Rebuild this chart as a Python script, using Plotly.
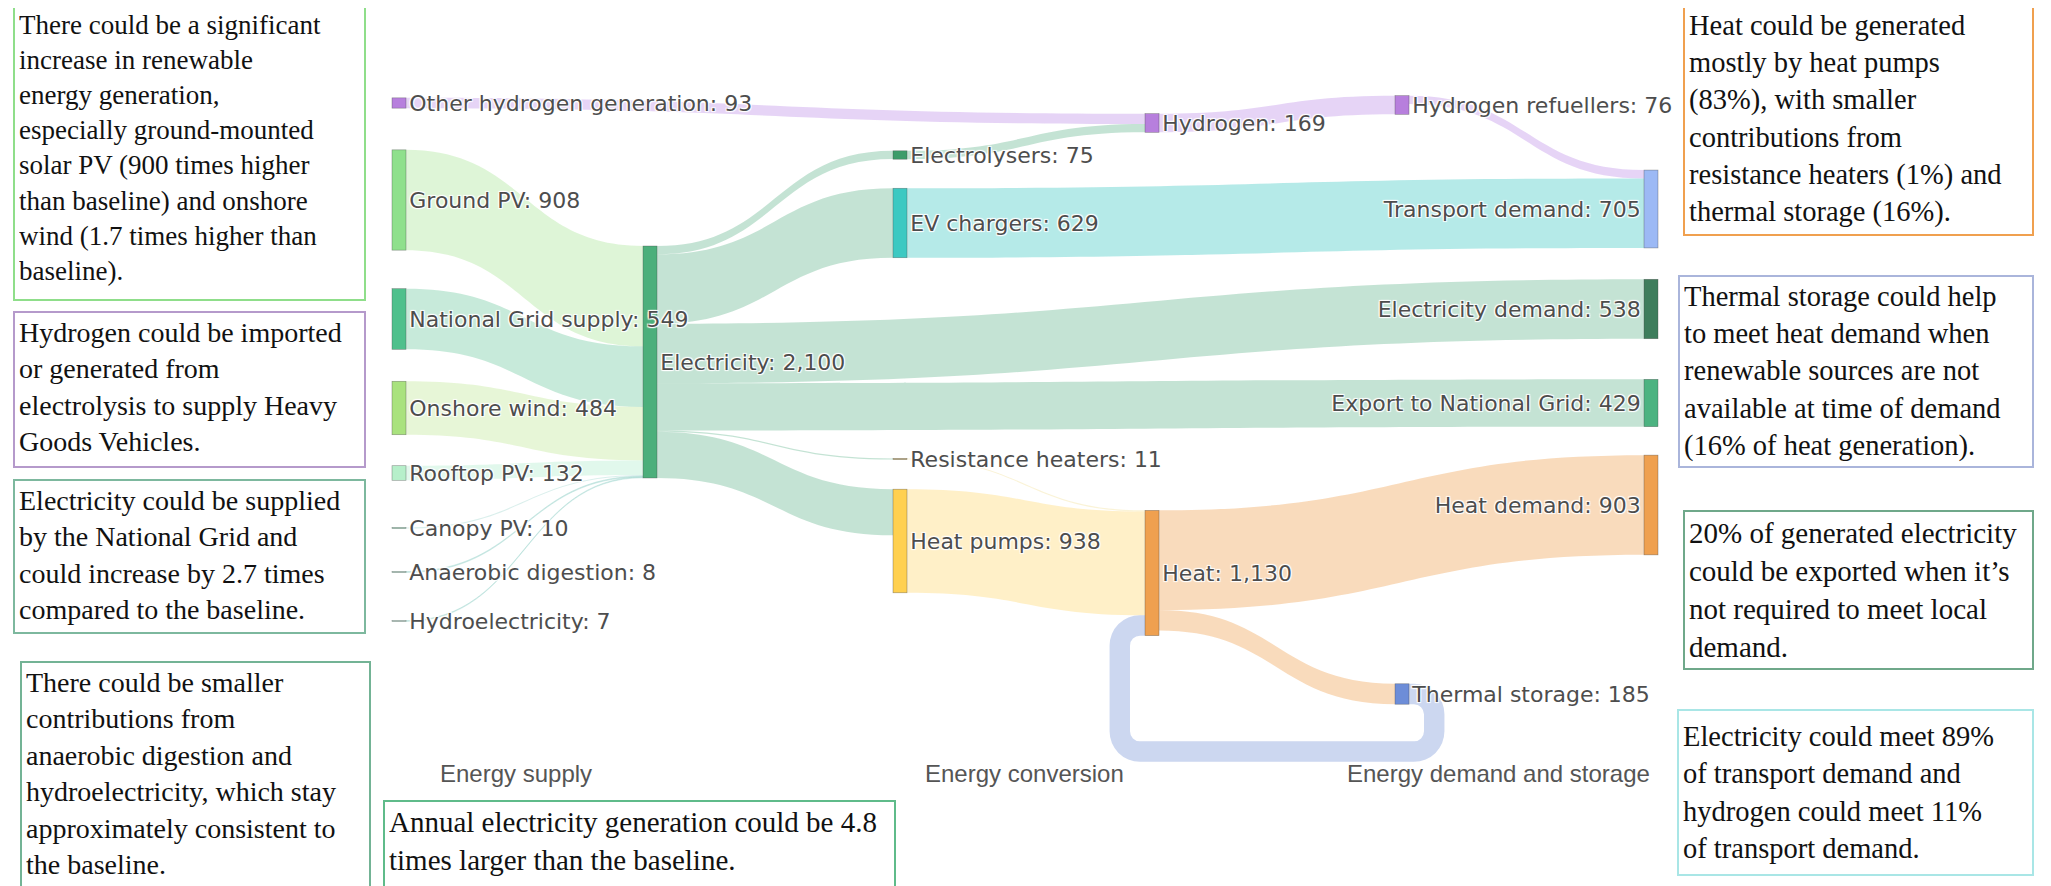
import plotly.graph_objects as go

# -- Data ---------------------------------------------------------------------

# Electricity comes first so that later node labels are drawn above its bar
NODE_NAMES = [
    "Electricity",
    "Other hydrogen generation",
    "Ground PV",
    "National Grid supply",
    "Onshore wind",
    "Rooftop PV",
    "Canopy PV",
    "Anaerobic digestion",
    "Hydroelectricity",
    "Electrolysers",
    "EV chargers",
    "Resistance heaters",
    "Heat pumps",
    "Hydrogen",
    "Heat",
    "Hydrogen refuellers",
    "Thermal storage",
    "Transport demand",
    "Electricity demand",
    "Export to National Grid",
    "Heat demand",
]
# values printed next to each node
NODE_TOTALS = [2100, 93, 908, 549, 484, 132, 10, 8, 7, 75, 629, 11, 938,
               169, 1130, 76, 185, 705, 538, 429, 903]

LINK_SOURCE = [
    "Other hydrogen generation", "Ground PV", "National Grid supply", "Onshore wind",
    "Rooftop PV", "Canopy PV", "Anaerobic digestion", "Hydroelectricity",
    "Electricity", "Electricity", "Electricity", "Electricity", "Electricity",
    "Electricity", "Electrolysers", "Hydrogen", "Hydrogen refuellers", "EV chargers",
    "Resistance heaters", "Heat pumps", "Heat", "Heat", "Thermal storage",
]
LINK_TARGET = [
    "Hydrogen", "Electricity", "Electricity", "Electricity",
    "Electricity", "Electricity", "Electricity", "Electricity",
    "Electrolysers", "EV chargers", "Electricity demand", "Export to National Grid",
    "Resistance heaters", "Heat pumps", "Hydrogen", "Hydrogen refuellers",
    "Transport demand", "Transport demand", "Heat", "Heat", "Heat demand",
    "Thermal storage", "Heat",
]
LINK_VALUE = [93, 908, 549, 484, 132, 10, 8, 7, 75, 629, 538, 429, 11, 418,
              76, 169, 76, 629, 11, 938, 903, 185, 185]

COLUMN_TITLES = ["Energy supply", "Energy conversion", "Energy demand and storage"]

NOTES = [
    "There could be a significant<br>increase in renewable<br>energy generation,<br>"
    "especially ground-mounted<br>solar PV (900 times higher<br>than baseline) and onshore<br>"
    "wind (1.7 times higher than<br>baseline).",
    "Hydrogen could be imported<br>or generated from<br>electrolysis to supply Heavy<br>"
    "Goods Vehicles.",
    "Electricity could be supplied<br>by the National Grid and<br>could increase by 2.7 times<br>"
    "compared to the baseline.",
    "There could be smaller<br>contributions from<br>anaerobic digestion and<br>"
    "hydroelectricity, which stay<br>approximately consistent to<br>the baseline.",
    "Annual electricity generation could be 4.8<br>times larger than the baseline.",
    "Heat could be generated<br>mostly by heat pumps<br>(83%), with smaller<br>"
    "contributions from<br>resistance heaters (1%) and<br>thermal storage (16%).",
    "Thermal storage could help<br>to meet heat demand when<br>renewable sources are not<br>"
    "available at time of demand<br>(16% of heat generation).",
    "20% of generated electricity<br>could be exported when it\u2019s<br>not required to meet local<br>"
    "demand.",
    "Electricity could meet 89%<br>of transport demand and<br>hydrogen could meet 11%<br>"
    "of transport demand.",
]

# -- Styling / layout ---------------------------------------------------------

W, H = 2051, 886
SHIFT = 8                  # page body margin, compensated in every position
SK_X0, SK_X1 = 392, 1659   # sankey domain in pixels (page coords)
SK_Y0, SK_Y1 = 95, 760


def px(x):
    return (x - SHIFT) / W


def py(y):
    return 1 - (y - SHIFT) / H


NODE_STYLE = {  # name: (colour, centre x px, centre y px)
    "Electricity": ("#4caf7b", 650, 362),
    "Other hydrogen generation": ("#b77fdd", 399, 103),
    "Ground PV": ("#8fe08c", 399, 200),
    "National Grid supply": ("#4fc08c", 399, 319),
    "Onshore wind": ("#a9e27e", 399, 408),
    "Rooftop PV": ("#b6efca", 399, 473),
    "Canopy PV": ("#9fdcc0", 399, 528),
    "Anaerobic digestion": ("#9fdcc0", 399, 572),
    "Hydroelectricity": ("#9fdcc0", 399, 621),
    "Electrolysers": ("#3d9c6a", 900, 155),
    "EV chargers": ("#3cc9c2", 900, 223),
    "Resistance heaters": ("#c9b070", 900, 459),
    "Heat pumps": ("#ffd04f", 900, 541),
    "Hydrogen": ("#b77fdd", 1152, 123),
    "Heat": ("#efa04f", 1152, 573),
    "Hydrogen refuellers": ("#b77fdd", 1402, 105),
    "Thermal storage": ("#6d8dd8", 1402, 694),
    "Transport demand": ("#9cb9f5", 1651, 209),
    "Electricity demand": ("#3e7d5c", 1651, 309),
    "Export to National Grid": ("#4cb381", 1651, 403),
    "Heat demand": ("#efa04f", 1651, 505),
}
LINK_COLOUR_BY_SOURCE = {
    "Other hydrogen generation": "rgba(200,160,235,0.45)",
    "Ground PV": "rgba(160,225,140,0.35)",
    "National Grid supply": "rgba(80,190,140,0.32)",
    "Onshore wind": "rgba(185,230,140,0.35)",
    "Rooftop PV": "rgba(170,235,200,0.35)",
    "Canopy PV": "rgba(150,210,200,0.35)",
    "Anaerobic digestion": "rgba(150,210,200,0.35)",
    "Hydroelectricity": "rgba(150,210,200,0.35)",
    "Electricity": "rgba(76,170,125,0.33)",
    "Electrolysers": "rgba(76,170,125,0.33)",
    "EV chargers": "rgba(60,200,195,0.38)",
    "Resistance heaters": "rgba(240,220,140,0.35)",
    "Heat pumps": "rgba(255,215,110,0.38)",
    "Hydrogen": "rgba(200,160,235,0.45)",
    "Heat": "rgba(239,160,79,0.38)",
    "Hydrogen refuellers": "rgba(200,160,235,0.45)",
    "Thermal storage": "rgba(120,150,215,0.38)",
}

idx = {n: i for i, n in enumerate(NODE_NAMES)}
node_colours = [NODE_STYLE[n][0] for n in NODE_NAMES]
node_x = [(NODE_STYLE[n][1] - SK_X0) / (SK_X1 - SK_X0) for n in NODE_NAMES]
node_y = [(NODE_STYLE[n][2] - SK_Y0) / (SK_Y1 - SK_Y0) for n in NODE_NAMES]
labels = [f"{n}: {v:,}" for n, v in zip(NODE_NAMES, NODE_TOTALS)]

fig = go.Figure(
    go.Sankey(
        arrangement="fixed",
        domain={"x": [px(SK_X0), px(SK_X1)], "y": [py(SK_Y1), py(SK_Y0)]},
        node={
            "label": labels,
            "color": node_colours,
            "x": node_x,
            "y": node_y,
            "pad": 29,
            "thickness": 14,
            "line": {"color": "rgba(70,70,70,0.55)", "width": 0.6},
        },
        link={
            "source": [idx[s] for s in LINK_SOURCE],
            "target": [idx[t] for t in LINK_TARGET],
            "value": LINK_VALUE,
            "color": [LINK_COLOUR_BY_SOURCE[s] for s in LINK_SOURCE],
        },
        textfont={"family": "DejaVu Sans", "size": 22, "color": "#4d4d4d"},
    )
)

annotations = []
for title, lx in zip(COLUMN_TITLES, [438, 923, 1345]):
    annotations.append(dict(
        text=title, x=px(lx), y=py(773), xref="paper", yref="paper",
        showarrow=False, xanchor="left", yanchor="middle",
        font={"family": "Liberation Sans", "size": 24, "color": "#555555"},
    ))

# note boxes: (left, top, right, bottom) in page pixels, border colour,
# font size, vertical alignment
BOXES = [
    ((13, 4, 366, 301), "#8fde8a", 27, "top"),
    ((13, 311, 366, 468), "#b59acb", 28, "top"),
    ((13, 479, 366, 634), "#7db89e", 28, "top"),
    ((20, 661, 371, 900), "#73b395", 28, "top"),
    ((383, 800, 896, 900), "#5fbb8a", 29, "top"),
    ((1683, 2, 2034, 236), "#f0a04f", 28.5, "middle"),
    ((1678, 275, 2034, 468), "#aab5db", 28.5, "middle"),
    ((1683, 510, 2034, 670), "#6fa88a", 29, "middle"),
    ((1677, 709, 2034, 876), "#a9e6e6", 28.5, "middle"),
]
for text, ((l, t, r, b), col, size, va) in zip(NOTES, BOXES):
    annotations.append(dict(
        text=text, x=px(l), y=py(t), xref="paper", yref="paper",
        showarrow=False, xanchor="left", yanchor="top", align="left", valign=va,
        width=r - l - 12, height=b - t - 12, borderpad=4,
        bordercolor=col, borderwidth=2, bgcolor="white",
        font={"family": "Liberation Serif", "size": size, "color": "#111111"},
    ))

fig.update_layout(
    width=W, height=H,
    margin={"l": 0, "r": 0, "t": 0, "b": 0},
    paper_bgcolor="white",
    annotations=annotations,
)

fig.write_html("out.html")
